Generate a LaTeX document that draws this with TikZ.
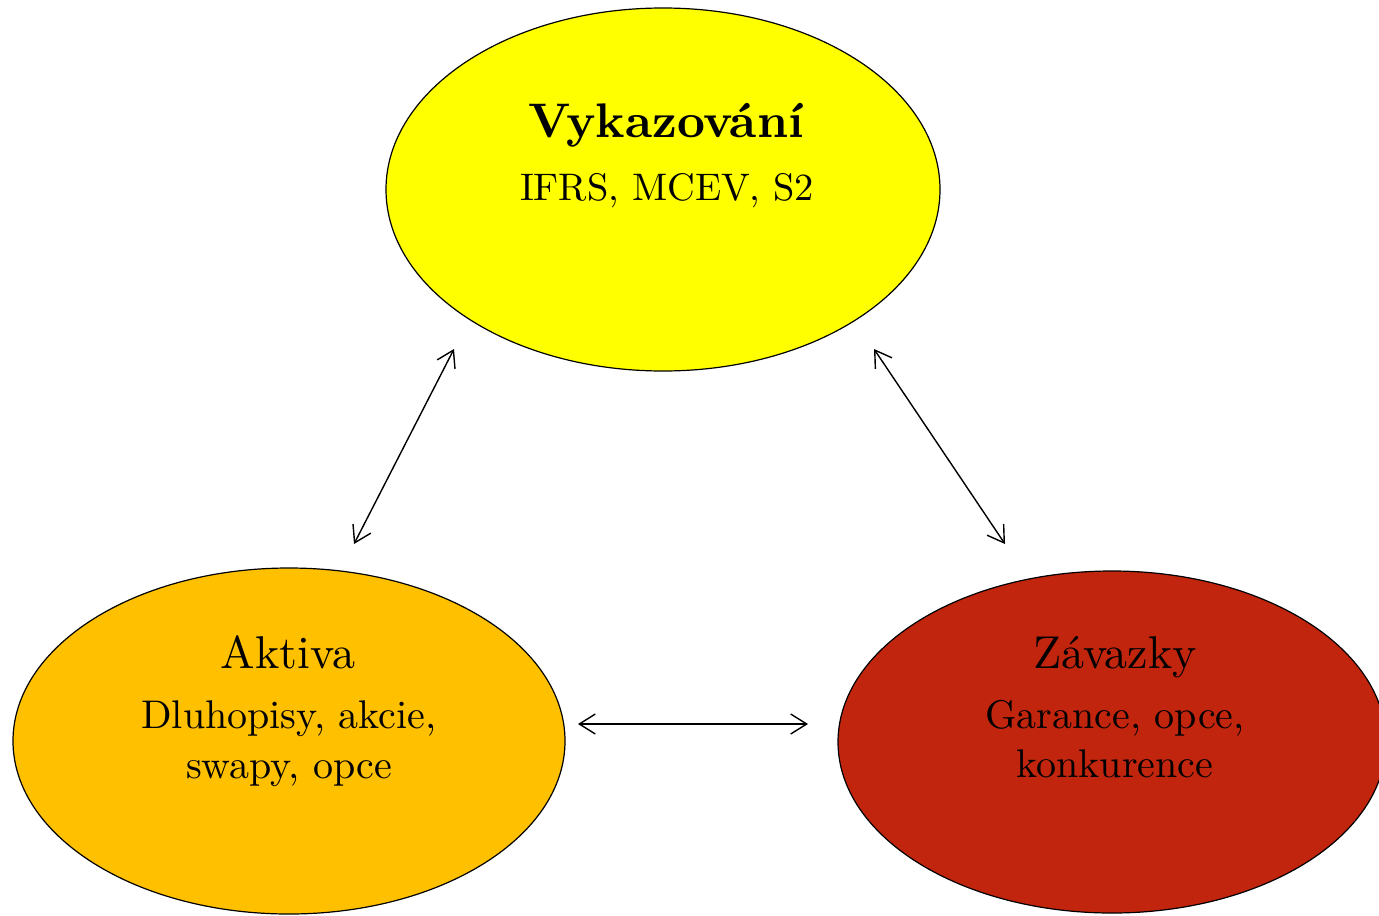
\documentclass[tikz,border=0pt]{standalone}
\usetikzlibrary{shapes.geometric,arrows.meta}
\DeclareFontFamily{TU}{lmten}{}
\DeclareFontShape{TU}{lmten}{m}{n}{<-> "[lmroman10-regular]:+tlig;"}{}
\DeclareFontShape{TU}{lmten}{b}{n}{<-> "[lmroman10-bold]:+tlig;"}{}
\DeclareFontShape{TU}{lmten}{bx}{n}{<-> "[lmroman10-bold]:+tlig;"}{}
\renewcommand{\rmdefault}{lmten}
\definecolor{topyellow}{RGB}{255,255,0}
\definecolor{leftorange}{RGB}{255,192,0}
\definecolor{rightred}{RGB}{194,37,13}
\begin{document}
\begin{tikzpicture}[x=0.5pt,y=-0.5pt,
  blob/.style={ellipse,draw=black,line width=0.6pt,inner sep=0pt},
  title/.style={anchor=base,inner sep=0pt,font=\fontsize{23}{27}\selectfont},
  body/.style={anchor=base,inner sep=0pt,font=\fontsize{20}{24}\selectfont},
  link/.style={{Straight Barb[length=8pt,width=10pt]}-{Straight Barb[length=8pt,width=10pt]},line width=0.7pt}]
\useasboundingbox (0,0) rectangle (1379,915);
\clip (0,0) rectangle (1379,915);
\node[blob,fill=topyellow,minimum width=277pt,minimum height=181.5pt] (top) at (663,189.5) {};
\node[blob,fill=leftorange,minimum width=276pt,minimum height=173pt] (left) at (289,741) {};
\node[blob,fill=rightred,minimum width=274pt,minimum height=171pt] (right) at (1112,742) {};
\node[anchor=base,inner sep=0pt,font=\fontsize{24.3}{28}\bfseries\selectfont] (t1) at (666,137) {Vykazování};
\node[anchor=base,inner sep=0pt,font=\fontsize{19.2}{23}\selectfont] (t2) at (667,200) {IFRS, MCEV, S2};
\node[title] (l1) at (288,668) {Aktiva};
\node[body] (l2) at (289,728) {Dluhopisy, akcie,};
\node[body] (l3) at (289,778) {swapy, opce};
\node[title] (r1) at (1115,668) {Závazky};
\node[body] (r2) at (1115,728) {Garance, opce,};
\node[body] (r3) at (1115,777) {konkurence};
\coordinate (a1) at (454,349);
\coordinate (a2) at (354,544);
\coordinate (b1) at (874,349);
\coordinate (b2) at (1005,544);
\coordinate (c1) at (578,724);
\coordinate (c2) at (808,724);
\draw[link] (a1) -- (a2);
\draw[link] (b1) -- (b2);
\draw[link] (c1) -- (c2);
\end{tikzpicture}
\end{document}
